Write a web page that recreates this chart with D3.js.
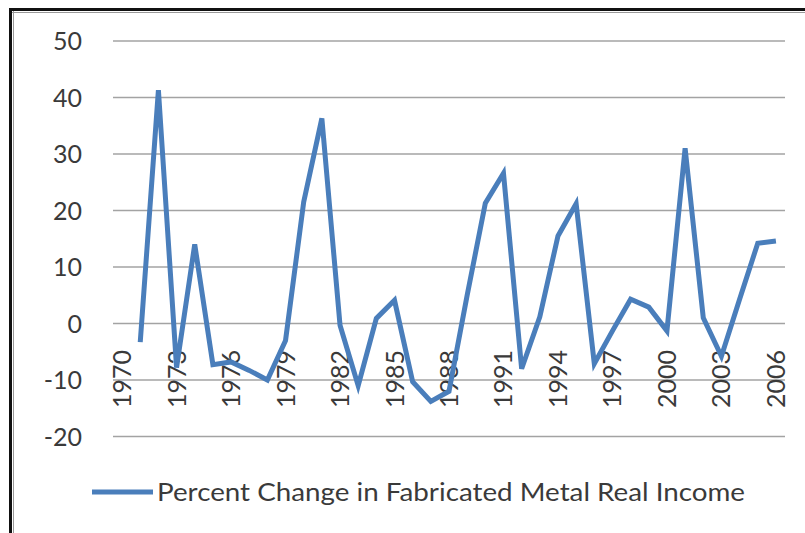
<!DOCTYPE html>
<html><head><meta charset="utf-8">
<script src="https://cdn.jsdelivr.net/npm/d3@7/dist/d3.min.js"></script>
<style>body{margin:0;background:#fff;}svg{display:block;}</style>
</head><body>
<script>
const years = d3.range(1970, 2007).map(String);
const values = [null, -3.3, 41.3, -7.8, 14, -7.3, -6.8, -8.3, -10, -3.0, 21.5, 36.3, -0.3, -11, 0.9, 4.1, -10.3, -13.8, -12, 5, 21.3, 26.6, -8, 1.2, 15.5, 21.2, -7.1, -1.3, 4.3, 2.9, -1.3, 31, 1, -5.8, 4.3, 14.2, 14.6];
const yTicks = [50, 40, 30, 20, 10, 0, -10, -20];
const xTickLabels = ["1970","1973","1976","1979","1982","1985","1988","1991","1994","1997","2000","2003","2006"];
const seriesName = "Percent Change in Fabricated Metal Real Income";

const W = 805, H = 533;
const svg = d3.select("body").append("svg").attr("width", W).attr("height", H);
const font = "Lato, 'Open Sans', sans-serif";
const textColor = "#3a3a3a";
const lineColor = "#4a7ebb";

// frame
svg.append("line").attr("x1", 10.5).attr("x2", 10.5).attr("y1", 8).attr("y2", H).attr("stroke", "#111").attr("stroke-width", 3);
svg.append("line").attr("x1", 9).attr("x2", W).attr("y1", 9.5).attr("y2", 9.5).attr("stroke", "#111").attr("stroke-width", 3);
svg.append("line").attr("x1", 13.5).attr("x2", 13.5).attr("y1", 11).attr("y2", H).attr("stroke", "#9a9a9a").attr("stroke-width", 1);
svg.append("line").attr("x1", 12).attr("x2", W).attr("y1", 12.5).attr("y2", 12.5).attr("stroke", "#9a9a9a").attr("stroke-width", 1);

const x = d3.scalePoint().domain(years).range([113, 785]).padding(0.5);
const y = d3.scaleLinear().domain([-20, 50]).range([436.5, 41]);

// gridlines
svg.append("g").selectAll("line").data(yTicks).join("line")
  .attr("x1", 113).attr("x2", 785)
  .attr("y1", d => y(d)).attr("y2", d => y(d))
  .attr("stroke", "#a3a3a3").attr("stroke-width", 1.5);

// y labels
svg.append("g").selectAll("text").data(yTicks).join("text")
  .attr("x", 82).attr("y", d => y(d)).attr("dy", "0.36em")
  .attr("text-anchor", "end").attr("font-family", font).attr("font-size", 25)
  .attr("fill", textColor).text(d => d);

// x labels
svg.append("g").selectAll("text").data(xTickLabels).join("text")
  .attr("transform", d => `translate(${x(d)},350) rotate(-90)`)
  .attr("dy", "0.36em").attr("text-anchor", "end")
  .attr("font-family", font).attr("font-size", 25).attr("fill", textColor)
  .text(d => d);

// line
const data = years.map((yr, i) => ({yr, v: values[i]}));
const line = d3.line().defined(d => d.v !== null).x(d => x(d.yr)).y(d => y(d.v));
svg.append("path").datum(data).attr("d", line)
  .attr("fill", "none").attr("stroke", lineColor).attr("stroke-width", 5)
  .attr("stroke-linejoin", "miter").attr("stroke-miterlimit", 4);

// legend
svg.append("line").attr("x1", 92).attr("x2", 153).attr("y1", 492).attr("y2", 492)
  .attr("stroke", lineColor).attr("stroke-width", 5);
svg.append("text").attr("x", 157).attr("y", 492).attr("dy", "0.36em")
  .attr("font-family", font).attr("font-size", 25).attr("fill", textColor)
  .attr("textLength", 588).attr("lengthAdjust", "spacingAndGlyphs")
  .text(seriesName);
</script>
</body></html>
